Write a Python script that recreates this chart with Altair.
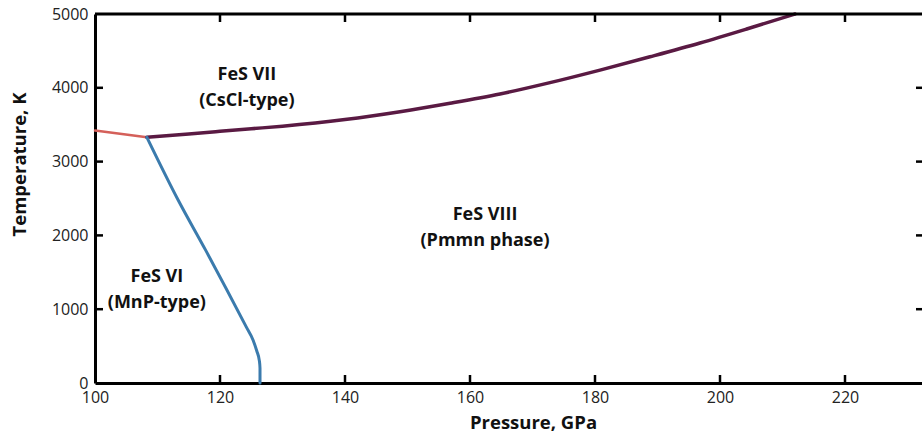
import altair as alt
import pandas as pd

# ---- data ----
red_p = [100.0, 108.3]
red_t = [3420, 3330]

purple_p = [108.3, 115, 120, 125, 130, 140, 148.8, 156.8, 164.8, 172.8, 180.8, 188.8, 196.8, 204.4, 212]
purple_t = [3330, 3375, 3410, 3445, 3480, 3570, 3676, 3790, 3916, 4070, 4240, 4420, 4607, 4800, 5000]

blue_p = [108.3, 113.3, 117.7, 124.2, 125.3, 125.9, 126.3, 126.4, 126.4]
blue_t = [3330, 2480, 1800, 760, 580, 430, 300, 200, 0]

x_ticks = [100, 120, 140, 160, 180, 200, 220]
y_ticks = [0, 1000, 2000, 3000, 4000, 5000]

label_text = ["FeS VII\n(CsCl-type)", "FeS VIII\n(Pmmn phase)", "FeS VI\n(MnP-type)"]
label_p = [124.3, 162.4, 109.9]
label_t = [4170, 2270, 1440]

X_MAX = 232.32
W, H = 827, 369
FONT = "Open Sans"

def seg(ps, ts, name):
    return pd.DataFrame({"p": ps, "t": ts, "o": list(range(len(ps))), "s": name})

xs = alt.Scale(domain=[100, X_MAX], nice=False, zero=False)
ys = alt.Scale(domain=[0, 5000], nice=False)

base_x = alt.X("p:Q", scale=xs,
               axis=alt.Axis(values=x_ticks, ticks=False, grid=False, domain=True,
                             domainColor="black", domainWidth=3, labelPadding=6,
                             labelFontSize=16, labelColor="#222", labelFont=FONT,
                             title="Pressure, GPa", titleFont=FONT, titleFontSize=18.5,
                             titleFontWeight="bold", titleColor="#111",
                             titleX=438, titleY=39, titleBaseline="middle", labelFlush=False))
base_y = alt.Y("t:Q", scale=ys,
               axis=alt.Axis(values=y_ticks, format="d", ticks=False, grid=False, domain=True,
                             domainColor="black", domainWidth=3, labelPadding=7,
                             labelFontSize=16, labelColor="#222", labelFont=FONT,
                             title="Temperature, K", titleFont=FONT, titleFontSize=18.5,
                             titleFontWeight="bold", titleColor="#111",
                             titleX=-76, titleY=150, titleAngle=-90,
                             titleAlign="center", titleBaseline="middle", labelFlush=False))

def curve(ps, ts, name, color, width, interp):
    return alt.Chart(seg(ps, ts, name)).mark_line(
        color=color, strokeWidth=width, strokeCap="round", strokeJoin="round",
        interpolate=interp).encode(x=base_x, y=base_y, order="o:Q")

red = curve(red_p, red_t, "red", "#d4605a", 2.5, "linear")
purple = curve(purple_p, purple_t, "purple", "#5a1a43", 3.5, "monotone")
blue = curve(blue_p, blue_t, "blue", "#3b7bad", 3, "monotone")

labels_df = pd.DataFrame({"txt": label_text, "p": label_p, "t": label_t})
labels = alt.Chart(labels_df).mark_text(font=FONT, fontSize=18, fontWeight="bold",
                                         color="#111", lineBreak="\n", lineHeight=26,
                                         align="center", baseline="middle").encode(
    x=alt.X("p:Q", scale=xs), y=alt.Y("t:Q", scale=ys), text="txt:N")

xt_df = pd.DataFrame({"p": x_ticks[1:]})
yt_df = pd.DataFrame({"t": y_ticks[1:-1]})

bottom_ticks = alt.Chart(xt_df).mark_rule(color="black", strokeWidth=2.5).encode(
    x=alt.X("p:Q", scale=xs), y=alt.value(H), y2=alt.value(H - 8))
top_ticks = alt.Chart(xt_df).mark_rule(color="black", strokeWidth=2.5).encode(
    x=alt.X("p:Q", scale=xs), y=alt.value(0), y2=alt.value(8))
left_ticks = alt.Chart(yt_df).mark_rule(color="black", strokeWidth=2.5).encode(
    y=alt.Y("t:Q", scale=ys), x=alt.value(0), x2=alt.value(8))
right_ticks = alt.Chart(yt_df).mark_rule(color="black", strokeWidth=2.5).encode(
    y=alt.Y("t:Q", scale=ys), x=alt.value(W - 6), x2=alt.value(W))
top_line = alt.Chart(pd.DataFrame({"a": [0]})).mark_rule(color="black", strokeWidth=3).encode(
    x=alt.value(0), x2=alt.value(W), y=alt.value(0))

chart = alt.layer(red, purple, blue, labels, bottom_ticks, top_ticks, left_ticks,
                  right_ticks, top_line).properties(
    width=W, height=H,
    padding={"left": 95, "top": 14, "right": 0, "bottom": 60},
    autosize=alt.AutoSizeParams(type="none"),
    background="white",
).configure_view(stroke=None)

chart.save("out.html", embed_options={"renderer": "svg", "actions": False})
